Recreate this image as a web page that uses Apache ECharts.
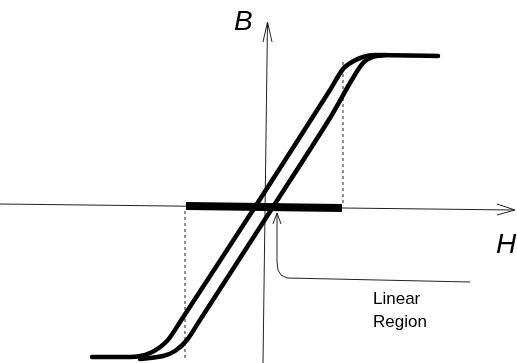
<!DOCTYPE html>
<html>
<head>
<meta charset="utf-8">
<script src="https://cdn.jsdelivr.net/npm/echarts@6/dist/echarts.min.js"></script>
<style>
  html, body { margin: 0; padding: 0; background: #fff; }
  #chart { width: 517px; height: 363px; }
</style>
</head>
<body>
<div id="chart"></div>
<script>
// H / B in arbitrary units (1 unit ~ 100 px), origin where the axes cross

// descending branch (left one), includes both saturation flats
const branchLeft = [
  [-1.73, -1.50], [-1.35, -1.50], [-1.15, -1.46], [-0.98, -1.34], [-0.85, -1.15],
  [-0.10, 0.00], [0.65, 1.17], [0.78, 1.38], [0.87, 1.45], [0.98, 1.50],
  [1.10, 1.52], [1.73, 1.51],
];

// ascending branch (right one)
const branchRight = [
  [-1.25, -1.52], [-1.02, -1.49], [-0.90, -1.44], [-0.78, -1.33], [-0.65, -1.13],
  [0.08, 0.00], [0.65, 0.89], [0.85, 1.24], [0.98, 1.44], [1.08, 1.50],
  [1.20, 1.52],
];

// linear region (thick bar on H axis) and its dashed limits
const linearRegion = [[-0.79, 0.01], [0.77, -0.01]];
const dashLeft = [[-0.80, -0.04], [-0.80, -1.51]];
const dashRight = [[0.78, 1.45], [0.78, 0.02]];

// axes (scan is tilted a little)
const axisH = [[-2.65, 0.03], [2.49, -0.03]];
const arrowH = [[2.32, 0.03], [2.50, -0.03], [2.32, -0.08]];
const axisB = [[-0.02, -1.56], [0.025, 1.85]];
const arrowB = [[-0.02, 1.65], [0.025, 1.85], [0.07, 1.65]];

// callout pointing at the linear region
const callout = [
  [0.12, -0.06], [0.12, -0.55], [0.13, -0.63], [0.16, -0.68], [0.22, -0.71], [2.05, -0.75],
];
const calloutHead = [[0.08, -0.17], [0.12, -0.06], [0.16, -0.17]];

const chart = echarts.init(document.getElementById('chart'));

const thin = (data, extra) => Object.assign({
  type: 'line',
  data: data,
  symbol: 'none',
  silent: true,
  animation: false,
  lineStyle: { color: '#222', width: 1 },
}, extra || {});

chart.setOption({
  animation: false,
  grid: { left: 0, right: 0, top: 0, bottom: 0 },
  xAxis: { type: 'value', min: -2.65, max: 2.52, show: false },
  yAxis: { type: 'value', min: -1.56, max: 2.07, show: false },
  series: [
    thin(axisH),
    thin(arrowH),
    thin(axisB),
    thin(arrowB),
    thin(dashLeft, { lineStyle: { color: '#222', width: 1, type: [3, 3] } }),
    thin(dashRight, { lineStyle: { color: '#222', width: 1, type: [3, 3] } }),
    thin(linearRegion, { lineStyle: { color: '#000', width: 8, cap: 'butt' } }),
    thin(branchLeft, { smooth: 0.3, lineStyle: { color: '#000', width: 4.5, cap: 'round' } }),
    thin(branchRight, { smooth: 0.3, lineStyle: { color: '#000', width: 4.5, cap: 'round' } }),
    thin(callout),
    thin(calloutHead),
  ],
  graphic: [
    {
      type: 'text', left: 234, top: 8,
      style: { text: 'B', font: 'italic 28px "Liberation Sans"', fill: '#000' },
    },
    {
      type: 'text', left: 496, top: 231,
      style: { text: 'H', font: 'italic 28px "Liberation Sans"', fill: '#000' },
    },
    {
      type: 'text', left: 373, top: 288,
      style: {
        text: 'Linear\nRegion', font: '17px "Liberation Sans"', lineHeight: 23, fill: '#000',
      },
    },
  ],
});
</script>
</body>
</html>
